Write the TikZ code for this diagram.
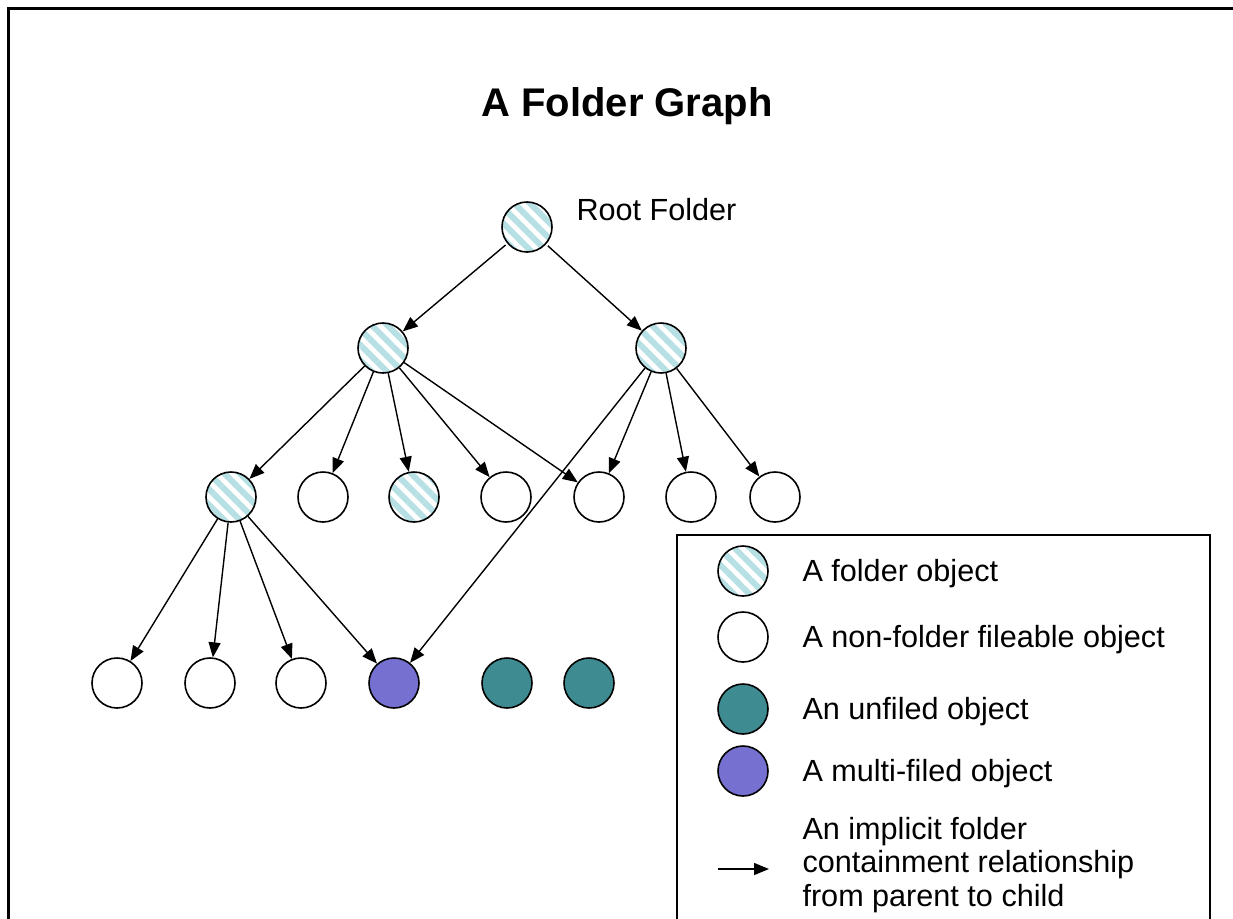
\documentclass[tikz,border=0pt]{standalone}
\usepackage{fontspec}
\setmainfont{Liberation Sans}
\usepackage{tikz}
\usetikzlibrary{patterns.meta,arrows.meta}

\definecolor{stripecol}{RGB}{182,224,228}
\definecolor{unfiledcol}{RGB}{62,140,146}
\definecolor{multicol}{RGB}{118,112,208}

\tikzset{
	obj/.style={circle, draw, line width=1.6pt, minimum size=50pt, inner sep=0pt},
	folder/.style={obj, pattern={Lines[angle=-45,distance=11pt,line width=6pt]}, pattern color=stripecol},
	fileable/.style={obj, fill=white},
	unfiled/.style={obj, fill=unfiledcol},
	multi/.style={obj, fill=multicol},
	link/.style={-{Triangle[length=15pt,width=12pt]}, line width=1.4pt},
	legtext/.style={anchor=west, align=left, font=\fontsize{30.6}{33.5}\selectfont}
}

\begin{document}
\begin{tikzpicture}[x=1pt, y=-1pt]
		
		\useasboundingbox (0, 0) rectangle (1233, 918);
		
		% frame and legend box
		\draw [line width=3pt] (8, 940) -- (8, 8) -- (1250, 8);
		\draw [line width=1.5pt] (677, 940) -- (677, 535) -- (1210, 535) -- (1210, 940);
		
		\node [font=\bfseries\fontsize{40}{44}\selectfont] (title) at (627, 106) {A Folder Graph};
		
		% the graph
		\node [folder] (root) at (527, 227) {};
		\node [legtext] (rootlbl) at (573, 210) {Root Folder};
		
		\node [folder] (fa) at (383, 348) {};
		\node [folder] (fb) at (661, 348) {};
		
		\node [folder] (fc) at (231, 497) {};
		\node [fileable] (o1) at (323, 497) {};
		\node [folder] (fd) at (414, 497) {};
		\node [fileable] (o2) at (506, 497) {};
		\node [fileable] (o3) at (599, 497) {};
		\node [fileable] (o4) at (691, 497) {};
		\node [fileable] (o5) at (775, 497) {};
		
		\node [fileable] (o6) at (117, 683) {};
		\node [fileable] (o7) at (210, 683) {};
		\node [fileable] (o8) at (301, 683) {};
		\node [multi] (m1) at (394, 683) {};
		\node [unfiled] (u1) at (507, 683) {};
		\node [unfiled] (u2) at (589, 683) {};
		
		\draw [link] (root) -- (fa);
		\draw [link] (root) -- (fb);
		
		\draw [link] (fa) -- (fc);
		\draw [link] (fa) -- (o1);
		\draw [link] (fa) -- (fd);
		\draw [link] (fa) -- (o2);
		\draw [link] (fa) -- (o3);
		
		\draw [link] (fb) -- (o3);
		\draw [link] (fb) -- (o4);
		\draw [link] (fb) -- (o5);
		\draw [link] (fb) -- (m1);
		
		\draw [link] (fc) -- (o6);
		\draw [link] (fc) -- (o7);
		\draw [link] (fc) -- (o8);
		\draw [link] (fc) -- (m1);
		
		% legend
		\node [folder] (kfolder) at (743, 571) {};
		\node [fileable] (kfile) at (743, 637) {};
		\node [unfiled] (kunfiled) at (743, 709) {};
		\node [multi] (kmulti) at (743, 771) {};
		
		\node [legtext] (tfolder) at (799, 574) {A folder object};
		\node [legtext] (tfile) at (799, 640) {A non-folder fileable object};
		\node [legtext] (tunfiled) at (799, 712) {An unfiled object};
		\node [legtext] (tmulti) at (799, 774) {A multi-filed object};
		\node [legtext] (tlink) at (799, 865) {An implicit folder\\containment relationship\\from parent to child};
		
		\coordinate (ktail) at (718, 869);
		\coordinate (khead) at (769, 869);
		\draw [link] (ktail) -- (khead);
		
\end{tikzpicture}
\end{document}
